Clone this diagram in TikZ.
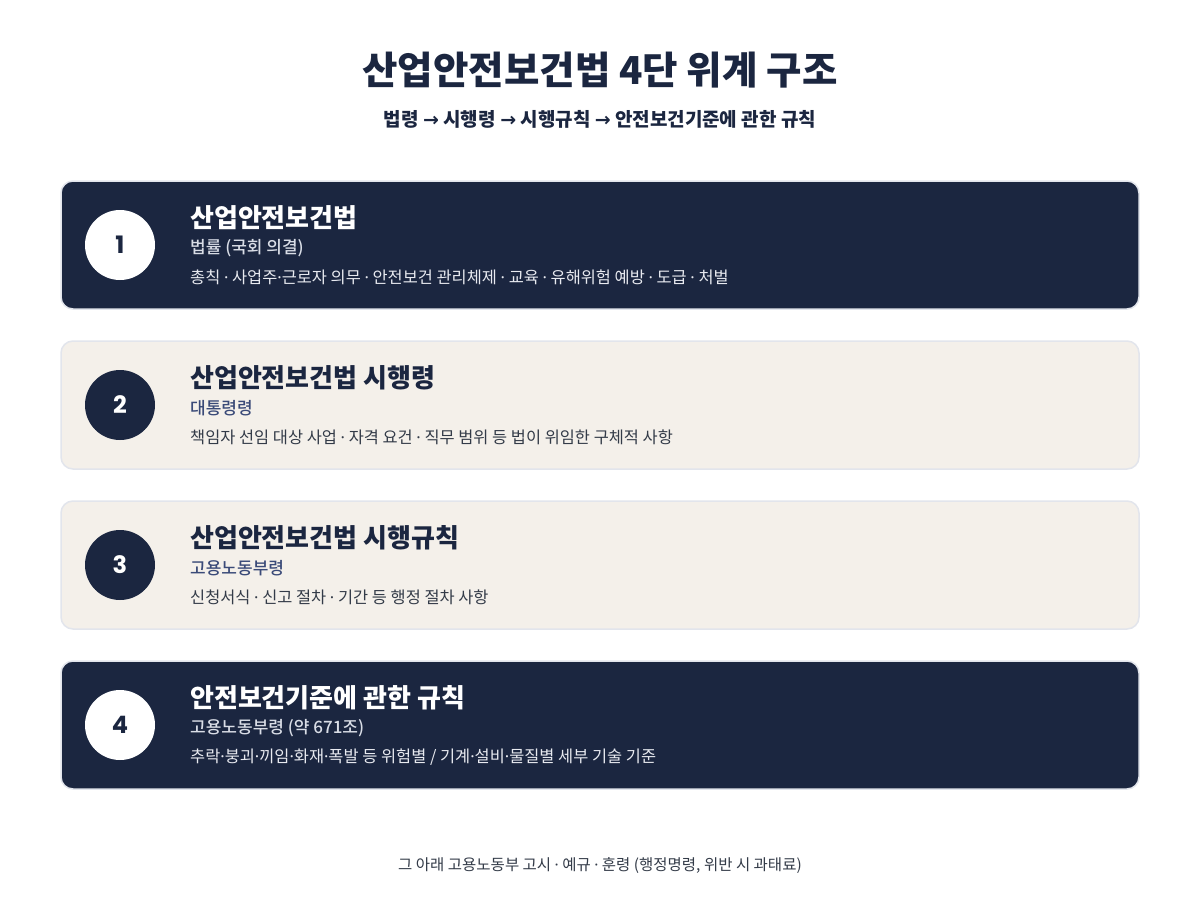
\documentclass[tikz,border=0pt]{standalone}
\usepackage{fontspec}
\setmainfont{Noto Sans CJK KR}
\newfontfamily\krmedium{Noto Sans CJK KR Medium}
\newfontfamily\latinfont{Noto Sans}
\newfontfamily\arrowfont{DejaVu Sans}
\newfontfamily\numfont{Poppins}
\newcommand{\mdot}{{\latinfont ·}}
\newcommand{\tarrow}{{\arrowfont\bfseries →}}

\definecolor{navy}{HTML}{1B2640}
\definecolor{cream}{HTML}{F4F0EA}
\definecolor{edgegray}{HTML}{E2E5EC}
\definecolor{subblue}{HTML}{3A4A78}
\definecolor{subpale}{HTML}{D9DDE6}
\definecolor{descpale}{HTML}{E8EAF0}
\definecolor{descdark}{HTML}{333B48}

\begin{document}
\begin{tikzpicture}[x=1pt, y=-1pt,
  tier/.style={draw=edgegray, line width=1.5pt, rounded corners=12pt,
    minimum width=1078pt, minimum height=128pt, inner sep=0pt},
  darktier/.style={tier, fill=navy},
  lighttier/.style={tier, fill=cream},
  badge/.style={circle, minimum size=70pt, inner sep=0pt,
    font=\numfont\fontsize{24}{28}\selectfont\bfseries},
  tiername/.style={anchor=west, inner sep=0pt, font=\fontsize{26}{30}\selectfont\bfseries},
  tierkind/.style={anchor=west, inner sep=0pt, font=\krmedium\fontsize{17}{20}\selectfont},
  tiertext/.style={anchor=west, inner sep=0pt, font=\fontsize{16.4}{19}\selectfont}]
\useasboundingbox[fill=white] (0,0) rectangle (1200,900);

% heading
\node[font=\fontsize{38.5}{44}\selectfont\bfseries, text=navy] (title) at (600, 70) {산업안전보건법 4단 위계 구조};
\node[font=\fontsize{19}{22}\selectfont\bfseries, text=navy] (chain) at (600, 119) {법령 \tarrow{} 시행령 \tarrow{} 시행규칙 \tarrow{} 안전보건기준에 관한 규칙};

% 1
\def\dy{245}
\node[darktier] (box1) at (600, \dy) {};
\node[badge, fill=white, text=navy] (num1) at (120, \dy) {1};
\node[tiername, text=white] (name1) at (190, \dy - 27) {산업안전보건법};
\node[tierkind, text=subpale] (kind1) at (190, \dy + 3) {법률 (국회 의결)};
\node[tiertext, text=descpale] (text1) at (190, \dy + 32) {총칙 \mdot{} 사업주\mdot{}근로자 의무 \mdot{} 안전보건 관리체제 \mdot{} 교육 \mdot{} 유해위험 예방 \mdot{} 도급 \mdot{} 처벌};

% 2
\def\dy{405}
\node[lighttier] (box2) at (600, \dy) {};
\node[badge, fill=navy, text=white] (num2) at (120, \dy) {2};
\node[tiername, text=navy] (name2) at (190, \dy - 27) {산업안전보건법 시행령};
\node[tierkind, text=subblue] (kind2) at (190, \dy + 3) {대통령령};
\node[tiertext, text=descdark] (text2) at (190, \dy + 32) {책임자 선임 대상 사업 \mdot{} 자격 요건 \mdot{} 직무 범위 등 법이 위임한 구체적 사항};

% 3
\def\dy{565}
\node[lighttier] (box3) at (600, \dy) {};
\node[badge, fill=navy, text=white] (num3) at (120, \dy) {3};
\node[tiername, text=navy] (name3) at (190, \dy - 27) {산업안전보건법 시행규칙};
\node[tierkind, text=subblue] (kind3) at (190, \dy + 3) {고용노동부령};
\node[tiertext, text=descdark] (text3) at (190, \dy + 32) {신청서식 \mdot{} 신고 절차 \mdot{} 기간 등 행정 절차 사항};

% 4
\def\dy{725}
\node[darktier] (box4) at (600, \dy) {};
\node[badge, fill=white, text=navy] (num4) at (120, \dy) {4};
\node[tiername, text=white] (name4) at (190, \dy - 27) {안전보건기준에 관한 규칙};
\node[tierkind, text=subpale] (kind4) at (190, \dy + 3) {고용노동부령 (약 671조)};
\node[tiertext, text=descpale] (text4) at (190, \dy + 32) {추락\mdot{}붕괴\mdot{}끼임\mdot{}화재\mdot{}폭발 등 위험별 / 기계\mdot{}설비\mdot{}물질별 세부 기술 기준};

% footnote
\node[font=\fontsize{15.5}{18}\selectfont, text=descdark] (note) at (600, 866) {그 아래 고용노동부 고시 \mdot{} 예규 \mdot{} 훈령 (행정명령, 위반 시 과태료)};
\end{tikzpicture}
\end{document}
